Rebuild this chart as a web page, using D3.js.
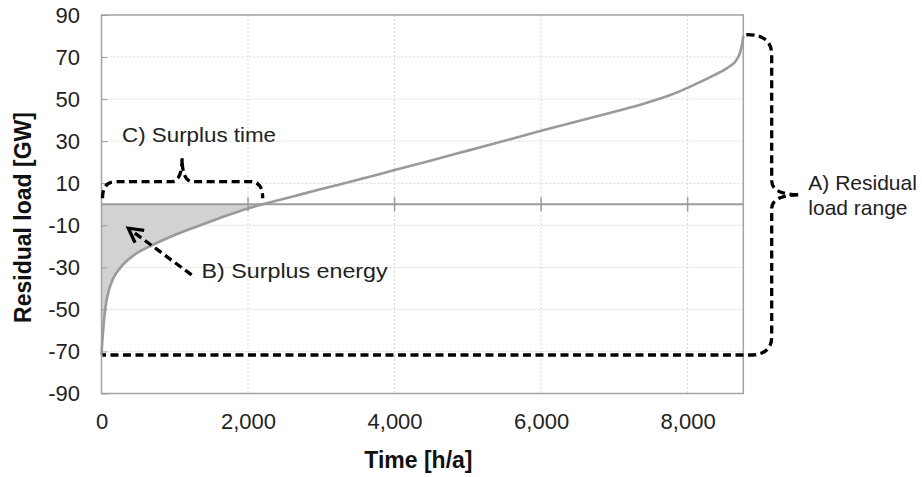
<!DOCTYPE html>
<html>
<head>
<meta charset="utf-8">
<script src="https://cdn.jsdelivr.net/npm/d3@7"></script>
<style>
  body { margin: 0; background: #fff; }
  text { font-family: Arial, "Liberation Sans", sans-serif; fill: #222; }
</style>
</head>
<body>
<svg id="chart" width="922" height="477"></svg>
<script>
// sorted residual load duration curve
const hours = [0, 10, 25, 50, 100, 150, 250, 450, 700, 1000, 1350, 1700, 2000, 2200, 2600, 3000, 3500, 4000, 4500, 5000, 5500, 6000, 6500, 7000, 7400, 7800, 8100, 8350, 8550, 8670, 8720, 8745, 8760];
const load = [-71.7, -66, -59, -50, -41, -36, -30.5, -24, -19.3, -14.6, -10, -5.5, -2, 0, 3.6, 7.2, 11.6, 16.3, 20.8, 25.5, 30.2, 34.9, 39.5, 44, 47.8, 52.4, 57, 61.2, 65, 68.8, 72.6, 76.5, 80];

const xTicks = [0, 2000, 4000, 6000, 8000];
const yTicks = [-90, -70, -50, -30, -10, 10, 30, 50, 70, 90];

// annotation anchors in data units
const arrowFrom = [1230, -33.6];
const arrowTo = [366, -11.4];

const svg = d3.select("#chart");
const x = d3.scaleLinear().domain([0, 8760]).range([101.5, 743.3]);
const y = d3.scaleLinear().domain([-90, 90]).range([393.5, 15]);

const data = hours.map((h, i) => [h, load[i]]);
const x0 = x.range()[0], xEnd = x.range()[1];
const yZero = y(0);

// grid
svg.append("g")
  .selectAll("line")
  .data(xTicks.slice(1))
  .join("line")
  .attr("x1", d => x(d)).attr("x2", d => x(d))
  .attr("y1", y(90)).attr("y2", y(-90))
  .attr("stroke", "#d6d6d6").attr("stroke-dasharray", "2,2");
svg.append("g")
  .selectAll("line")
  .data(yTicks.slice(1, -1))
  .join("line")
  .attr("x1", x0).attr("x2", xEnd)
  .attr("y1", d => y(d)).attr("y2", d => y(d))
  .attr("stroke", "#d6d6d6").attr("stroke-dasharray", "2,2");

// surplus area
const area = d3.area()
  .curve(d3.curveMonotoneX)
  .x(d => x(d[0]))
  .y0(yZero)
  .y1(d => y(Math.min(d[1], 0)));
svg.append("path")
  .datum(data.filter(d => d[1] <= 0))
  .attr("d", area)
  .attr("fill", "#d2d2d2");

// frame
svg.append("rect")
  .attr("x", x0).attr("y", y(90))
  .attr("width", xEnd - x0).attr("height", y(-90) - y(90))
  .attr("fill", "none").attr("stroke", "#a3a3a3").attr("stroke-width", 1.5);

// zero line with ticks
svg.append("line")
  .attr("x1", x0).attr("x2", xEnd)
  .attr("y1", yZero).attr("y2", yZero)
  .attr("stroke", "#9c9c9c").attr("stroke-width", 2.2);
svg.append("g")
  .selectAll("line")
  .data(xTicks.slice(1))
  .join("line")
  .attr("x1", d => x(d)).attr("x2", d => x(d))
  .attr("y1", yZero - 7).attr("y2", yZero + 7)
  .attr("stroke", "#9c9c9c").attr("stroke-width", 1.5);

// curve
const line = d3.line().curve(d3.curveMonotoneX).x(d => x(d[0])).y(d => y(d[1]));
svg.append("path")
  .datum(data)
  .attr("d", line)
  .attr("fill", "none")
  .attr("stroke", "#9a9a9a")
  .attr("stroke-width", 2.6);

// axes
const yAxis = svg.append("g")
  .attr("transform", `translate(${x0},0)`)
  .call(d3.axisLeft(y).tickValues(yTicks).tickSize(-6).tickPadding(21.5).tickFormat(d => String(d)));
yAxis.attr("font-family", null);
yAxis.select(".domain").remove();
yAxis.selectAll("line").attr("stroke", "#999");
yAxis.selectAll("text").attr("font-size", 22).style("fill", "#222");

const xAxis = svg.append("g")
  .attr("transform", `translate(0,${y(-90)})`)
  .call(d3.axisBottom(x).tickValues(xTicks).tickSize(0).tickPadding(20).tickFormat(d3.format(",")));
xAxis.attr("font-family", null);
xAxis.select(".domain").remove();
xAxis.selectAll("text").attr("font-size", 22).style("fill", "#222");

svg.append("text")
  .attr("x", (x0 + xEnd) / 2 - 4).attr("y", 468)
  .attr("text-anchor", "middle")
  .attr("font-size", 23).attr("font-weight", "bold")
  .style("fill", "#111")
  .text("Time [h/a]");
svg.append("text")
  .attr("transform", "rotate(-90)")
  .attr("x", -217.5).attr("y", 30.5)
  .attr("text-anchor", "middle")
  .attr("font-size", 23).attr("font-weight", "bold")
  .style("fill", "#111")
  .text("Residual load [GW]");

// annotations
const dash = g => g.attr("fill", "none").attr("stroke", "#000")
  .attr("stroke-width", 3.3).attr("stroke-dasharray", "8,4.5");

// C) surplus time brace
const crossHour = hours[load.indexOf(0)];
const xCross = x(crossHour);
const lvl = yZero - 22.6, tip = yZero - 46, mid = (x0 + xCross) / 2;
svg.append("path")
  .attr("d", `M${x0 + 1},${yZero - 6} Q${x0 + 1},${lvl} ${x0 + 14},${lvl} L${mid - 11},${lvl}
    Q${mid},${lvl} ${mid},${tip} Q${mid},${lvl} ${mid + 11},${lvl} L${xCross - 12},${lvl}
    Q${xCross},${lvl} ${xCross},${yZero - 6}`)
  .call(dash);
svg.append("text")
  .attr("x", x0 + 20.5).attr("y", tip - 16.5)
  .attr("font-size", 20).attr("textLength", 154).attr("lengthAdjust", "spacingAndGlyphs")
  .text("C) Surplus time");

// A) residual load range brace
const yTop = y(d3.max(load)) - 1.5, yBot = y(d3.min(load));
const yMid = (yTop + yBot) / 2;
const xv = xEnd + 28.4, xTip = xEnd + 57;
svg.append("path")
  .attr("d", `M${xEnd + 3},${yTop} Q${xv},${yTop} ${xv},${yTop + 20} L${xv},${yMid - 14}
    Q${xv},${yMid} ${xTip},${yMid} Q${xv},${yMid} ${xv},${yMid + 14} L${xv},${yBot - 18}
    Q${xv},${yBot} ${xEnd + 6},${yBot} L${x0 + 1},${yBot}`)
  .call(dash);
svg.append("text")
  .attr("x", xEnd + 65).attr("y", yMid - 5)
  .attr("font-size", 21)
  .text("A) Residual");
svg.append("text")
  .attr("x", xEnd + 65).attr("y", yMid + 20)
  .attr("font-size", 21)
  .text("load range");

// B) surplus energy arrow
const ax1 = x(arrowFrom[0]), ay1 = y(arrowFrom[1]);
const ax2 = x(arrowTo[0]), ay2 = y(arrowTo[1]);
const ang = Math.atan2(ay1 - ay2, ax1 - ax2);
svg.append("line")
  .attr("x1", ax1).attr("y1", ay1)
  .attr("x2", ax2 + 6 * Math.cos(ang)).attr("y2", ay2 + 6 * Math.sin(ang))
  .call(dash);
const arm = 16, spread = 0.5;
svg.append("path")
  .attr("d", `M${ax2 + arm * Math.cos(ang - spread)},${ay2 + arm * Math.sin(ang - spread)}
    L${ax2},${ay2} L${ax2 + arm * Math.cos(ang + spread)},${ay2 + arm * Math.sin(ang + spread)}`)
  .attr("fill", "none").attr("stroke", "#000").attr("stroke-width", 3.3);
svg.append("text")
  .attr("x", ax1 + 10).attr("y", ay1 + 3.3)
  .attr("font-size", 20).attr("textLength", 186).attr("lengthAdjust", "spacingAndGlyphs")
  .text("B) Surplus energy");
</script>
</body>
</html>
